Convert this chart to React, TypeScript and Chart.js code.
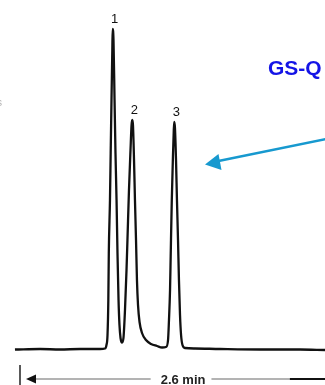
import React, { useEffect, useRef } from "react";
import { Chart, registerables } from "chart.js";

Chart.register(...registerables);

// Retention time (min) of each recorded trace point
const traceTimes = [
  -0.043, 0.171, 0.341, 0.512, 0.682, 0.725,
  0.737, 0.746, 0.753, 0.757, 0.767, 0.773, 0.78, 0.787, 0.79,
  0.797, 0.806, 0.814, 0.823, 0.831, 0.84, 0.848, 0.857, 0.87, 0.882,
  0.895, 0.908, 0.916, 0.929, 0.942, 0.951, 0.957,
  0.963, 0.972, 0.98, 0.989, 0.997, 1.006, 1.019, 1.04, 1.074, 1.117, 1.168, 1.211, 1.245,
  1.262, 1.27, 1.279, 1.285, 1.294, 1.303, 1.311, 1.315,
  1.321, 1.33, 1.338, 1.347, 1.355, 1.364, 1.373, 1.385, 1.407, 1.492,
  1.705, 2.046, 2.387, 2.6,
];

// Detector response (% of peak 1)
const traceSignal = [
  -0.16, 0, -0.16, 0, 0, 0.16,
  1.25, 4.38, 15.31, 30.0, 46.56, 61.25, 77.81, 93.44, 100,
  96.56, 77.81, 61.25, 46.56, 30.0, 15.31, 7.5, 3.44, 2.03, 3.44,
  12.19, 24.69, 34.06, 49.69, 62.19, 70.0, 71.56,
  70.0, 59.06, 46.56, 34.06, 21.56, 13.75, 8.44, 5.0, 2.81, 1.56, 0.94, 0.47, 0.63,
  2.81, 9.06, 18.44, 30.0, 46.56, 59.06, 68.44, 70.94,
  69.06, 59.06, 46.56, 34.06, 21.56, 10.63, 4.38, 1.25, 0.31, 0.16,
  0, -0.16, -0.16, -0.31,
];

const peakLabels = ["1", "2", "3"];
const peakTimes = [0.79, 0.957, 1.315];
const peakHeights = [100, 71.56, 70.94];

const runTimeLabel = "2.6 min";
const runTimeStart = 0;
const runTimeEnd = 2.6;
const columnLabel = "GS-Q";

const FONT = 'Arial, "Liberation Sans", Helvetica, sans-serif';

const overlayPlugin = {
  id: "overlay",
  afterDatasetsDraw(chart: any) {
    const ctx = chart.ctx;
    const xs = chart.scales.x;
    const ys = chart.scales.y;
    ctx.save();

    // peak numbers
    ctx.fillStyle = "#111";
    ctx.font = `13px ${FONT}`;
    ctx.textAlign = "center";
    ctx.textBaseline = "alphabetic";
    peakLabels.forEach((lab, i) => {
      const px = xs.getPixelForValue(peakTimes[i]);
      const py = ys.getPixelForValue(peakHeights[i]);
      ctx.fillText(lab, px + 2, py - 6);
    });

    // run-time arrow under the trace
    const yA = ys.getPixelForValue(-9.375);
    const x0 = xs.getPixelForValue(runTimeStart);
    const x1 = xs.getPixelForValue(runTimeEnd);
    ctx.strokeStyle = "#222";
    ctx.lineWidth = 1.5;
    ctx.beginPath();
    ctx.moveTo(x0, yA - 14);
    ctx.lineTo(x0, yA + 8);
    ctx.stroke();

    const tip = x0 + 6;
    ctx.fillStyle = "#111";
    ctx.beginPath();
    ctx.moveTo(tip, yA);
    ctx.lineTo(tip + 10, yA - 4.5);
    ctx.lineTo(tip + 10, yA + 4.5);
    ctx.closePath();
    ctx.fill();

    ctx.font = `bold 13px ${FONT}`;
    ctx.textAlign = "center";
    ctx.textBaseline = "middle";
    const tx = xs.getPixelForValue(1.39);
    const tw = ctx.measureText(runTimeLabel).width;
    ctx.fillStyle = "#222";
    ctx.fillText(runTimeLabel, tx, yA + 1);

    ctx.strokeStyle = "#9a9a9a";
    ctx.lineWidth = 1.6;
    ctx.beginPath();
    ctx.moveTo(tip + 10, yA);
    ctx.lineTo(tx - tw / 2 - 10, yA);
    ctx.moveTo(tx + tw / 2 + 6, yA);
    ctx.lineTo(xs.getPixelForValue(2.3), yA);
    ctx.stroke();
    ctx.strokeStyle = "#111";
    ctx.lineWidth = 1.8;
    ctx.beginPath();
    ctx.moveTo(xs.getPixelForValue(2.3), yA);
    ctx.lineTo(x1, yA);
    ctx.stroke();

    // column name
    ctx.fillStyle = "#1414e6";
    ctx.font = `bold 21px ${FONT}`;
    ctx.textAlign = "left";
    ctx.textBaseline = "alphabetic";
    ctx.fillText(columnLabel, 268, 74.5);

    // blue pointer arrow
    ctx.strokeStyle = "#1799cf";
    ctx.fillStyle = "#1799cf";
    ctx.lineWidth = 2.6;
    ctx.beginPath();
    ctx.moveTo(326, 139);
    ctx.lineTo(216, 161.5);
    ctx.stroke();
    ctx.beginPath();
    ctx.moveTo(205, 164.5);
    ctx.lineTo(218.5, 154);
    ctx.lineTo(221.5, 170);
    ctx.closePath();
    ctx.fill();

    // cut-off mark at the left edge
    ctx.fillStyle = "#b0b0b0";
    ctx.font = `10px ${FONT}`;
    ctx.textAlign = "left";
    ctx.textBaseline = "middle";
    ctx.fillText("s", -3, 103);

    ctx.restore();
  },
};

export default function App() {
  const ref = useRef<HTMLCanvasElement | null>(null);

  useEffect(() => {
    document.body.style.margin = "0";
    const canvas = ref.current;
    if (!canvas) return;
    const points = traceTimes.map((t, i) => ({ x: t, y: traceSignal[i] }));
    const chart = new Chart(canvas, {
      type: "line",
      data: {
        datasets: [
          {
            data: points,
            borderColor: "#111111",
            borderWidth: 2.3,
            pointRadius: 0,
            cubicInterpolationMode: "monotone",
            fill: false,
          },
        ],
      },
      options: {
        animation: false,
        responsive: false,
        maintainAspectRatio: false,
        layout: { padding: 0 },
        plugins: { legend: { display: false }, tooltip: { enabled: false } },
        scales: {
          x: { type: "linear", min: -0.1705, max: 2.6, display: false },
          y: { type: "linear", min: -11.25, max: 109.0625, display: false },
        },
      },
      plugins: [overlayPlugin],
    } as any);
    return () => chart.destroy();
  }, []);

  return (
    <div style={{ width: 325, height: 385, background: "#fff" }}>
      <canvas ref={ref} width={325} height={385} style={{ display: "block" }} />
    </div>
  );
}
